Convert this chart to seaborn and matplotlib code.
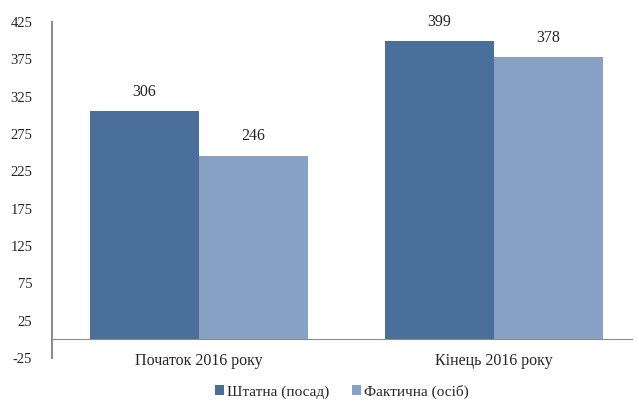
import pandas as pd
import matplotlib
matplotlib.use("Agg")
import matplotlib.pyplot as plt
import seaborn as sns

periods = ["Початок 2016 року", "Кінець 2016 року"]
staff = [306, 399]
actual = [246, 378]
series = ["Штатна (посад)", "Фактична (осіб)"]
colors = ["#4a6f9b", "#87a1c4"]
yticks = list(range(-25, 426, 50))

df = pd.DataFrame({
    "period": periods * 2,
    "value": staff + actual,
    "series": [series[0]] * 2 + [series[1]] * 2,
})

sns.set_style("white")
plt.rcParams["font.family"] = ["Liberation Serif", "DejaVu Serif"]
plt.rcParams["axes.unicode_minus"] = False

fig = plt.figure(figsize=(6.39, 4.04), dpi=100)
ax = fig.add_axes([0.081, 0.114, 0.908, 0.832])

sns.barplot(data=df, x="period", y="value", hue="series", palette=colors,
            width=0.74, saturation=1, linewidth=0, ax=ax)

for cont in ax.containers:
    ax.bar_label(cont, fmt="%d", padding=8, fontsize=11.5)

ax.set_ylim(-25, 425)
ax.set_xlim(-0.5, 1.47)
ax.set_yticks(yticks)
ax.set_xlabel("")
ax.set_ylabel("")
ax.tick_params(axis="both", length=0, labelsize=10.5)
ax.tick_params(axis="x", pad=10, labelsize=11.5)
ax.tick_params(axis="y", pad=14)

for s in ["top", "right"]:
    ax.spines[s].set_visible(False)
ax.spines["bottom"].set_position(("data", 0))
ax.spines["bottom"].set_color("#8c8c8c")
ax.spines["left"].set_color("#8c8c8c")
ax.spines["left"].set_linewidth(1.5)

ax.legend(loc="center", bbox_to_anchor=(0.5, -0.10), ncol=2, frameon=False,
          fontsize=11, handlelength=0.6, handleheight=0.6, handletextpad=0.2,
          columnspacing=1.5)

fig.savefig("out.png", dpi=100)
